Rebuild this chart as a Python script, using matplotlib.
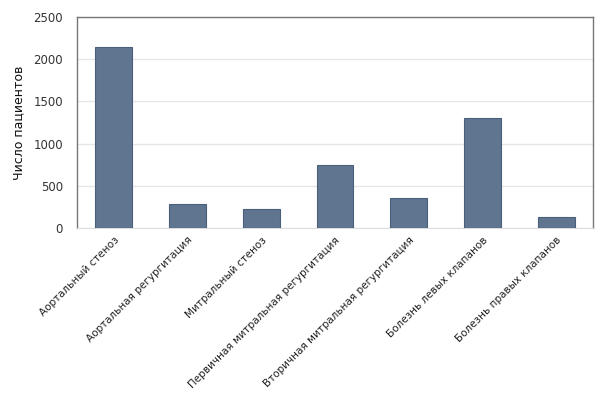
import matplotlib
matplotlib.use("Agg")
import matplotlib.pyplot as plt

categories = ["Аортальный стеноз", "Аортальная регургитация", "Митральный стеноз",
              "Первичная митральная регургитация", "Вторичная митральная регургитация",
              "Болезнь левых клапанов", "Болезнь правых клапанов"]
patients = [2150, 280, 230, 745, 360, 1300, 135]
yticks = [0, 500, 1000, 1500, 2000, 2500]

plt.rcParams['font.family'] = ['DejaVu Sans']
fig = plt.figure(figsize=(6.0, 3.95), dpi=100)
ax = fig.add_axes([77 / 600, 1 - 228 / 395, 516 / 600, 211 / 395])

x = range(len(categories))
ax.bar(x, patients, width=0.5, color='#5f7590', edgecolor='#4a5f7a', lw=0.8, zorder=3)

ax.set_xlim(-0.5, len(categories) - 0.5)
ax.set_ylim(0, 2500)
ax.set_yticks(yticks)
ax.set_yticklabels([str(t) for t in yticks], fontsize=8.5, color='#333')
ax.set_xticks(list(x))
ax.set_xticklabels(categories, rotation=45, ha='right', rotation_mode='anchor',
                   fontsize=7.5, color='#222')
ax.tick_params(axis='y', length=0, pad=10)
ax.tick_params(axis='x', length=0, pad=5)
ax.grid(axis='y', color='#e6e6e6', lw=1, zorder=0)
for s in ['left', 'right', 'top']:
    ax.spines[s].set_color('#777')
    ax.spines[s].set_linewidth(1)
ax.spines['bottom'].set_color('#dddddd')
ax.set_ylabel('Число пациентов', fontsize=9, color='#111', labelpad=6)

fig.savefig('out.png', dpi=100)
